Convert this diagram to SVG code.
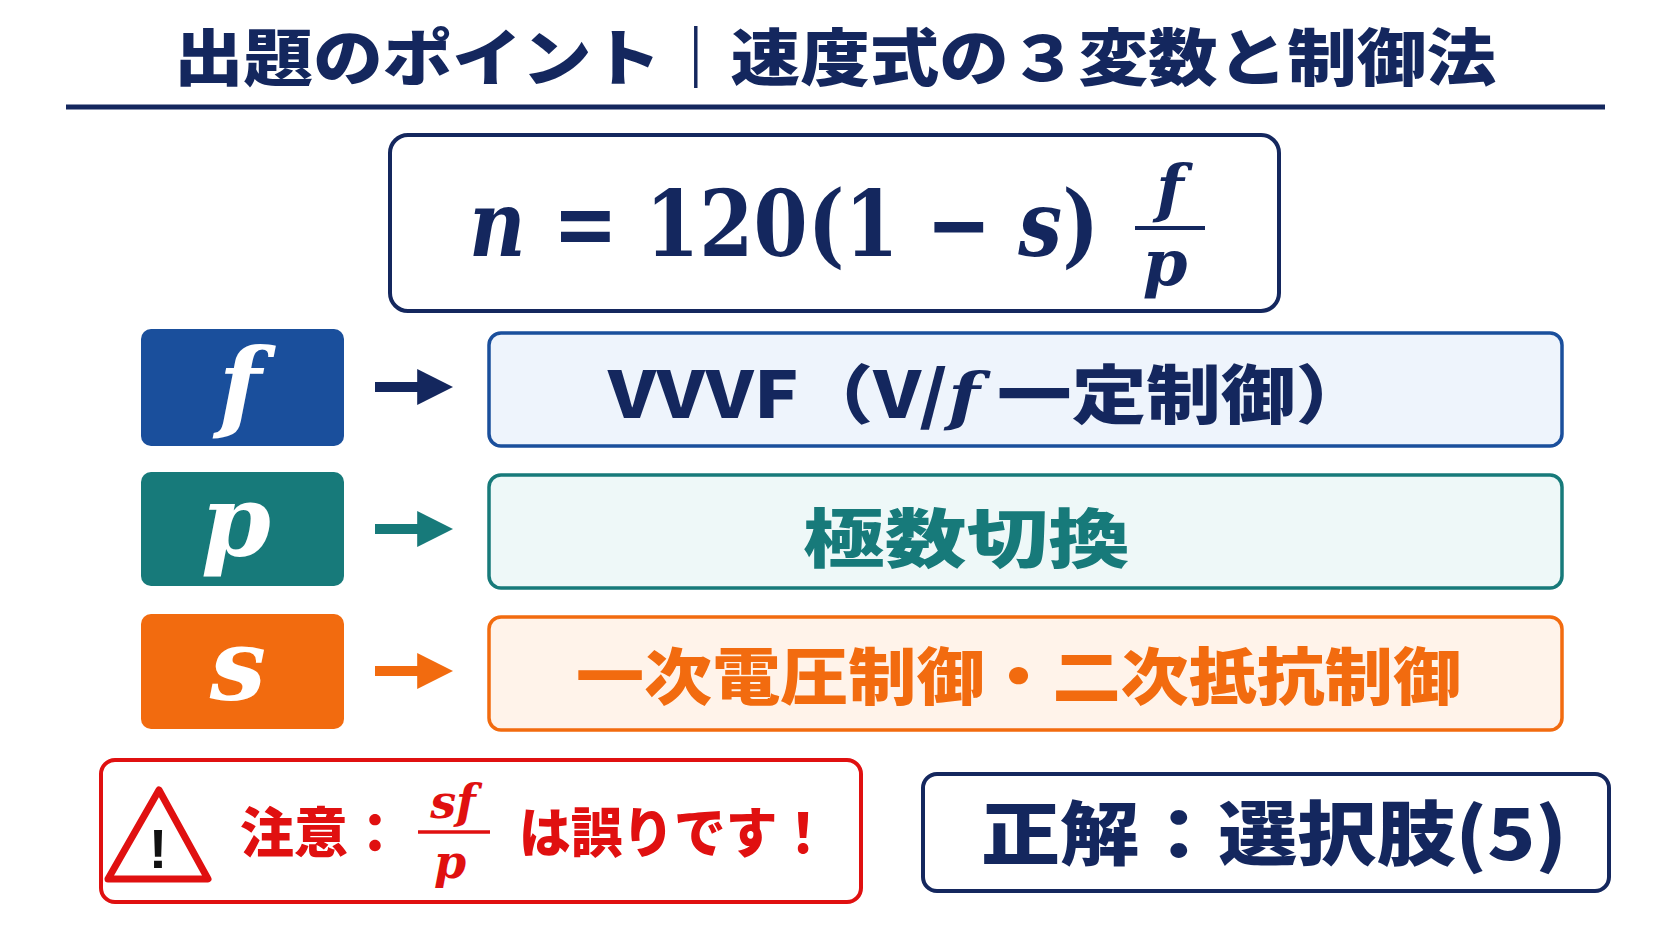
<svg xmlns="http://www.w3.org/2000/svg" width="1672" height="941" viewBox="0 0 1672 941">
<style>
.jp{font-family:"Noto Sans CJK JP","Noto Sans",sans-serif;font-weight:900}
.m{font-family:"DejaVu Serif","Liberation Serif",serif;font-weight:bold}
.i{font-style:italic}
</style>
<defs>
<marker id="ah" viewBox="0 0 10 10" refX="3" refY="5" markerWidth="3.6" markerHeight="4.4" orient="auto"><path d="M0,0L10,5L0,10z" fill="context-stroke"/></marker>
</defs>
<rect width="1672" height="941" fill="#fff"/>
<g id="title">
<text class="jp" x="174" y="81" font-size="62" textLength="1322" lengthAdjust="spacingAndGlyphs" fill="#14275e">出題のポイント｜速度式の３変数と制御法</text>
<line x1="66" y1="107" x2="1605" y2="107" stroke="#14275e" stroke-width="5"/>
</g>
<g id="formula">
<rect x="390" y="135" width="889" height="176" rx="18" fill="#fff" stroke="#14275e" stroke-width="4"/>
<text class="m" x="469" y="256" font-size="92" textLength="630" lengthAdjust="spacingAndGlyphs" fill="#14275e"><tspan class="i">n</tspan> = 120(1 − <tspan class="i">s</tspan>)</text>
<text class="m i" x="1170" y="210" font-size="64" text-anchor="middle" fill="#14275e">f</text>
<line x1="1135" y1="228" x2="1205" y2="228" stroke="#14275e" stroke-width="4"/>
<text class="m i" x="1165" y="285" font-size="64" text-anchor="middle" fill="#14275e">p</text>
</g>
<g id="row-f">
<rect x="141" y="329" width="203" height="117" rx="10" fill="#1a4f9c"/>
<text class="m i" x="240" y="420" font-size="100" text-anchor="middle" fill="#fff">f</text>
<rect x="489" y="333" width="1073" height="113" rx="12" fill="#eef4fc" stroke="#1a4f9c" stroke-width="3.5"/>
<text class="jp" x="608" y="418" font-size="64" textLength="762" lengthAdjust="spacingAndGlyphs" fill="#14275e">VVVF（V/<tspan class="m i">f</tspan> 一定制御）</text>
</g>
<g id="row-p">
<rect x="141" y="472" width="203" height="114" rx="10" fill="#177a7a"/>
<text class="m i" x="236" y="556" font-size="100" text-anchor="middle" fill="#fff">p</text>
<rect x="489" y="475" width="1073" height="113" rx="12" fill="#eef8f8" stroke="#177a7a" stroke-width="3.5"/>
<text class="jp" x="803" y="562" font-size="64" textLength="327" lengthAdjust="spacingAndGlyphs" fill="#177a7a">極数切換</text>
</g>
<g id="row-s">
<rect x="141" y="614" width="203" height="115" rx="10" fill="#f26b0f"/>
<text class="m i" x="238" y="700" font-size="100" text-anchor="middle" fill="#fff">s</text>
<rect x="489" y="617" width="1073" height="113" rx="12" fill="#fff3ea" stroke="#f26b0f" stroke-width="3.5"/>
<text class="jp" x="576" y="700" font-size="62" textLength="885" lengthAdjust="spacingAndGlyphs" fill="#f26b0f">一次電圧制御・二次抵抗制御</text>
</g>
<g id="connectors" stroke-width="10" fill="none">
<line x1="375" y1="387" x2="428" y2="387" stroke="#14275e" marker-end="url(#ah)"/>
<line x1="375" y1="529" x2="428" y2="529" stroke="#177a7a" marker-end="url(#ah)"/>
<line x1="375" y1="671" x2="428" y2="671" stroke="#f26b0f" marker-end="url(#ah)"/>
</g>
<g id="warning">
<rect x="101" y="760" width="760" height="142" rx="14" fill="#fff" stroke="#e01010" stroke-width="4"/>
<path d="M159,790 L208,879 L108,879 Z" fill="#fff" stroke="#e01010" stroke-width="7" stroke-linejoin="round"/>
<text x="158" y="868" font-family="Liberation Sans,sans-serif" font-weight="bold" font-size="56" text-anchor="middle" fill="#111">!</text>
<text class="jp" x="240" y="853" font-size="54" fill="#e01010">注意：</text>
<text class="m i" x="453" y="818" font-size="46" text-anchor="middle" fill="#e01010">sf</text>
<line x1="418" y1="832" x2="490" y2="832" stroke="#e01010" stroke-width="3.5"/>
<text class="m i" x="450" y="878" font-size="46" text-anchor="middle" fill="#e01010">p</text>
<text class="jp" x="519" y="853" font-size="54" textLength="310" lengthAdjust="spacingAndGlyphs" fill="#e01010">は誤りです！</text>
</g>
<g id="answer">
<rect x="923" y="774" width="686" height="117" rx="14" fill="#fff" stroke="#14275e" stroke-width="4"/>
<text class="jp" x="981" y="860" font-size="70" textLength="586" lengthAdjust="spacingAndGlyphs" fill="#14275e">正解：選択肢(5)</text>
</g>
</svg>
